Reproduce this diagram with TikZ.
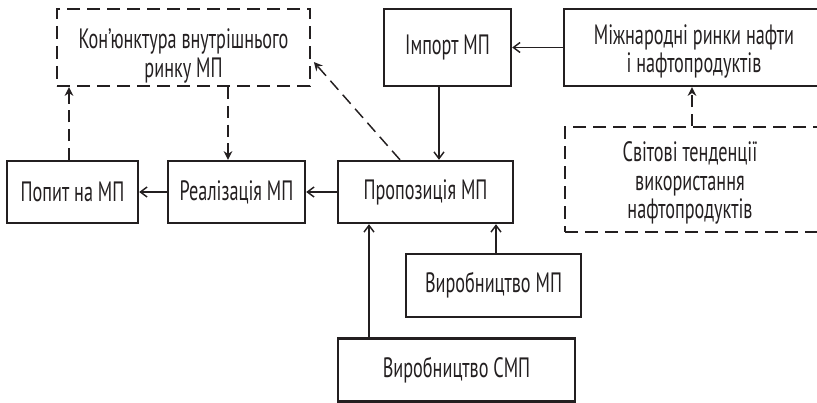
\documentclass[tikz,border=0pt]{standalone}
\usepackage{fontspec}
\setmainfont[FakeStretch=0.65]{PT Sans}
\usetikzlibrary{arrows.meta}
\definecolor{ink}{HTML}{231F20}
\begin{document}
\begin{tikzpicture}[x=0.75pt,y=-0.75pt, color=ink,
  txt/.style={align=center, inner sep=0pt, text=ink, font=\fontsize{21}{21.5}\selectfont},
  box/.style={txt, draw, line width=1.8pt},
  dbox/.style={box, dash pattern=on 10pt off 5pt},
  arr/.style={line width=1.1pt, -{Straight Barb[length=5pt,width=7.5pt,line width=1.1pt]}},
  darr/.style={line width=1.1pt, dash pattern=on 9pt off 5pt, -{Stealth[length=6.5pt,width=6.5pt]}}]
\useasboundingbox (0,0) rectangle (817,403);
\node[dbox, minimum width=253*0.75pt, minimum height=77*0.75pt] (kon) at (183.5,47.5) {};
\node[txt] (kont) at (183.5,56) {Кон’юнктура внутрішнього\\ринку МП};
\node[box, minimum width=127*0.75pt, minimum height=77*0.75pt] (imp) at (447.5,47.5) {Імпорт МП};
\node[box, minimum width=260*0.75pt, minimum height=77*0.75pt] (mizh) at (694,47.5) {};
\node[txt] (mizht) at (694,51.5) {Міжнародні ринки нафти\\і нафтопродуктів};
\node[dbox, minimum width=258*0.75pt, minimum height=105*0.75pt] (svit) at (694,179.5) {};
\node[txt] (svitt) at (690,183) {Світові тенденції\\використання\\нафтопродуктів};
\node[box, minimum width=131*0.75pt, minimum height=62*0.75pt] (pop) at (72.5,192) {Попит на МП};
\node[box, minimum width=137*0.75pt, minimum height=62*0.75pt] (real) at (236.5,192) {Реалізація МП};
\node[box, minimum width=175*0.75pt, minimum height=62*0.75pt] (prop) at (425.5,192) {Пропозиція МП};
\node[box, minimum width=175*0.75pt, minimum height=63*0.75pt] (vmp) at (493.5,285.5) {Виробництво МП};
\node[box, minimum width=237*0.75pt, minimum height=63*0.75pt] (vsmp) at (456.5,370) {Виробництво СМП};
\coordinate (c1) at (228,0);
\coordinate (c2) at (69,0);
\coordinate (c3) at (400,0);
\coordinate (c4) at (0,62);
\coordinate (c5) at (439,0);
\coordinate (c6) at (692,0);
\coordinate (c7) at (496,0);
\coordinate (c8) at (369,0);
\draw[darr] (c1 |- kon.south) -- (c1 |- real.north);
\draw[darr] (c2 |- pop.north) -- (c2 |- kon.south);
\draw[darr] (c3 |- prop.north) -- ([xshift=2pt]kon.east |- c4);
\draw[darr] (c6 |- svit.north) -- (c6 |- mizh.south);
\draw[arr] (real.west) -- (pop.east);
\draw[arr] (prop.west) -- (real.east);
\draw[arr] (mizh.west) -- (imp.east);
\draw[arr] (c5 |- imp.south) -- (c5 |- prop.north);
\draw[arr] (c7 |- vmp.north) -- (c7 |- prop.south);
\draw[arr] (c8 |- vsmp.north) -- (c8 |- prop.south);
\end{tikzpicture}
\end{document}
